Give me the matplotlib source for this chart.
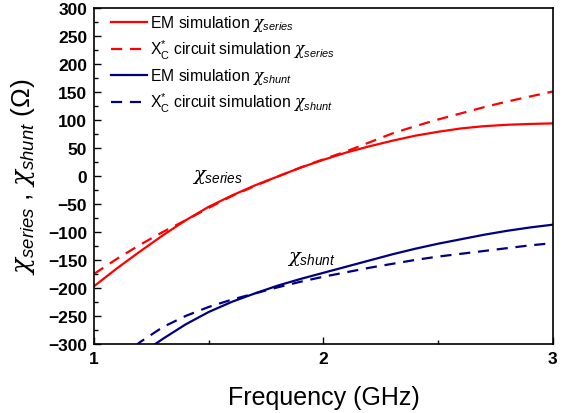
import matplotlib
matplotlib.use("Agg")
import matplotlib.pyplot as plt

plt.rcParams['font.family'] = ['Liberation Sans', 'DejaVu Sans']
plt.rcParams['mathtext.fontset'] = 'custom'
plt.rcParams['mathtext.rm'] = 'Liberation Sans'
plt.rcParams['mathtext.it'] = 'DejaVu Serif:italic'
plt.rcParams['mathtext.sf'] = 'Liberation Sans:italic'
plt.rcParams['mathtext.bf'] = 'Liberation Sans:bold'

# Frequency grid (GHz)
freq = [1.0, 1.1, 1.2, 1.3, 1.4, 1.5, 1.6, 1.7, 1.8, 1.9, 2.0,
        2.1, 2.2, 2.3, 2.4, 2.5, 2.6, 2.7, 2.8, 2.9, 3.0]

# EM simulation chi_series
em_series = [-197, -165, -135, -106, -79, -55, -35, -17, -1, 15, 29,
             42, 53, 63, 72, 79, 85, 89, 91.5, 93, 94]
# Xc* circuit simulation chi_series
ckt_series = [-175, -148, -123, -100, -79, -57, -36, -18, -1, 15, 30,
              44, 60, 76, 89, 101, 112, 123, 133, 142, 151]

# EM simulation chi_shunt
freq_shunt_em = [1.25, 1.3, 1.4, 1.5, 1.6, 1.7, 1.8, 1.9, 2.0,
                 2.1, 2.2, 2.3, 2.4, 2.5, 2.6, 2.7, 2.8, 2.9, 3.0]
em_shunt = [-305, -291, -265, -243, -225, -210, -196, -184, -173,
            -162, -151, -140, -130, -121, -113, -105, -98, -92, -87]
# Xc* circuit simulation chi_shunt
freq_shunt_ckt = [1.18, 1.2, 1.3, 1.4, 1.5, 1.6, 1.7, 1.8, 1.9, 2.0,
                  2.1, 2.2, 2.3, 2.4, 2.5, 2.6, 2.7, 2.8, 2.9, 3.0]
ckt_shunt = [-304, -297, -270, -250, -234, -221, -210, -199, -189, -180,
             -172, -164, -157, -150, -144, -139, -134, -129, -124, -120]

red = '#FF0000'
navy = '#000080'

fig = plt.figure(figsize=(5.7, 4.14), dpi=100)
ax = fig.add_axes([0.165, 0.167, 0.805, 0.811])

lw = 1.6
dash = (0, (5, 3.5))
ax.plot(freq, em_series, color=red, lw=lw,
        label=r'EM simulation $\chi_{\mathsf{series}}$')
ax.plot(freq, ckt_series, color=red, lw=lw, linestyle=dash,
        label=r'X$_{\mathrm{C}}^{*}$ circuit simulation $\chi_{\mathsf{series}}$')
ax.plot(freq_shunt_em, em_shunt, color=navy, lw=lw,
        label=r'EM simulation $\chi_{\mathsf{shunt}}$')
ax.plot(freq_shunt_ckt, ckt_shunt, color=navy, lw=lw, linestyle=dash,
        label=r'X$_{\mathrm{C}}^{*}$ circuit simulation $\chi_{\mathsf{shunt}}$')

ax.set_xlim(1, 3)
ax.set_ylim(-300, 300)
ax.set_xticks([1, 2, 3])
ax.set_xticks([1.5, 2.5], minor=True)
ax.set_yticks(range(-300, 301, 50))
ax.set_yticks(range(-275, 300, 50), minor=True)
ax.tick_params(which='both', direction='in', top=False, right=False)
ax.tick_params(which='major', length=5, width=1.0, labelsize=12.5, pad=5)
ax.tick_params(which='minor', length=3, width=1.0)
for lab in ax.get_xticklabels() + ax.get_yticklabels():
    lab.set_fontweight('bold')
for s in ax.spines.values():
    s.set_linewidth(1.2)

ax.set_xlabel('Frequency (GHz)', fontsize=18, labelpad=14)
ax.set_ylabel(r'$\chi_{\mathsf{series}}$ , $\chi_{\mathsf{shunt}}$ (Ω)',
              fontsize=19, labelpad=8)

ax.text(1.425, -5, r'$\chi_{\mathsf{series}}$', fontsize=14)
ax.text(1.84, -152, r'$\chi_{\mathsf{shunt}}$', fontsize=14)

leg = ax.legend(loc='upper left', bbox_to_anchor=(0.018, 1.01),
                frameon=False, fontsize=11.3,
                handlelength=2.3, handletextpad=0.2, labelspacing=0.3,
                borderaxespad=0.15, borderpad=0.4)

fig.savefig('out.png', dpi=100)
